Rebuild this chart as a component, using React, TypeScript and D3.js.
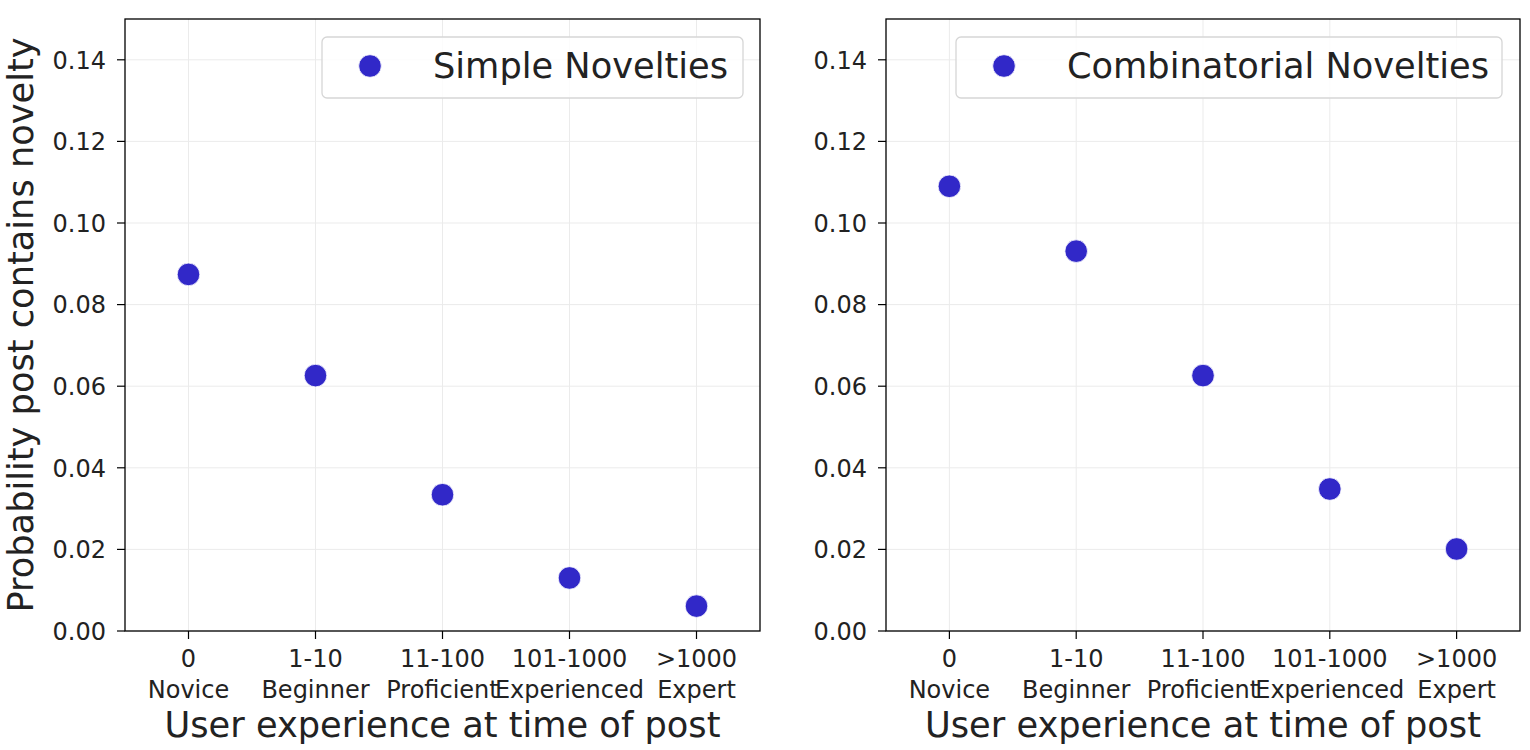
import React from 'react';
import * as d3 from 'd3';

const categories = ['0\nNovice', '1-10\nBeginner', '11-100\nProficient', '101-1000\nExperienced', '>1000\nExpert'];
const simpleValues = [0.0874, 0.0626, 0.0334, 0.0130, 0.0061];
const combinatorialValues = [0.109, 0.0931, 0.0626, 0.0348, 0.0201];
const yTicks = [0, 0.02, 0.04, 0.06, 0.08, 0.1, 0.12, 0.14];

const W = 1530;
const H = 750;
const FONT = '"DejaVu Sans", sans-serif';
const DOT = '#3128c8';

interface PanelProps {
  left: number;
  right: number;
  values: number[];
  label: string;
  legendX: number;
  legendW: number;
  showYLabel?: boolean;
}

const top = 19;
const bottom = 631;

const Panel: React.FC<PanelProps> = ({ left, right, values, label, legendX, legendW, showYLabel }) => {
  const x = d3.scaleLinear().domain([-0.5, categories.length - 0.5]).range([left, right]);
  const y = d3.scaleLinear().domain([0, 0.15]).range([bottom, top]);

  return (
    <g>
      {/* grid */}
      <g stroke="#ebebeb" strokeWidth={1}>
        {categories.map((_, i) => (
          <line key={`gx-${i}`} x1={x(i)} x2={x(i)} y1={top} y2={bottom} />
        ))}
        {yTicks.map(t => (
          <line key={`gy-${t}`} x1={left} x2={right} y1={y(t)} y2={y(t)} />
        ))}
      </g>

      {/* points */}
      {values.map((v, i) => (
        <circle key={i} cx={x(i)} cy={y(v)} r={11.3} fill={DOT} stroke="#ffffff" strokeWidth={0.8} />
      ))}

      {/* spines */}
      <rect x={left} y={top} width={right - left} height={bottom - top} fill="none" stroke="#000" strokeWidth={1.3} />

      {/* y ticks */}
      {yTicks.map(t => (
        <g key={`yt-${t}`}>
          <line x1={left - 8} x2={left} y1={y(t)} y2={y(t)} stroke="#000" strokeWidth={1.2} />
          <text x={left - 19} y={y(t) + 8.8} textAnchor="end" fontSize={24} fontFamily={FONT} fill="#222">
            {t.toFixed(2)}
          </text>
        </g>
      ))}

      {/* x ticks */}
      {categories.map((c, i) => {
        const lines = c.split('\n');
        return (
          <g key={`xt-${i}`}>
            <line x1={x(i)} x2={x(i)} y1={bottom} y2={bottom + 8} stroke="#000" strokeWidth={1.2} />
            {lines.map((ln, j) => (
              <text key={j} x={x(i)} y={667 + j * 31} textAnchor="middle" fontSize={24} fontFamily={FONT} fill="#222">
                {ln}
              </text>
            ))}
          </g>
        );
      })}

      {/* x label */}
      <text x={(left + right) / 2} y={737} textAnchor="middle" fontSize={35.2} fontFamily={FONT} fill="#222">
        User experience at time of post
      </text>

      {showYLabel && (
        <text
          transform={`translate(33, ${(top + bottom) / 2}) rotate(-90)`}
          textAnchor="middle"
          fontSize={35.2}
          fontFamily={FONT}
          fill="#222"
        >
          Probability post contains novelty
        </text>
      )}

      {/* legend */}
      <g>
        <rect x={legendX} y={37} width={legendW} height={61} rx={5} fill="rgba(255,255,255,0.85)" stroke="#d6d6d6" strokeWidth={1.3} />
        <circle cx={legendX + 48} cy={66} r={11.3} fill={DOT} stroke="#ffffff" strokeWidth={0.8} />
        <text x={legendX + 111} y={66 + 11.5} fontSize={35.2} fontFamily={FONT} fill="#222">
          {label}
        </text>
      </g>
    </g>
  );
};

const App: React.FC = () => {
  return (
    <svg width={W} height={H} style={{ display: 'block', position: 'absolute', left: 0, top: 0 }}>
      <rect width={W} height={H} fill="#fff" />
      <Panel left={125} right={760} values={simpleValues} label="Simple Novelties" legendX={322} legendW={421} showYLabel />
      <Panel left={886} right={1520} values={combinatorialValues} label="Combinatorial Novelties" legendX={956} legendW={546} />
    </svg>
  );
};

export default App;
